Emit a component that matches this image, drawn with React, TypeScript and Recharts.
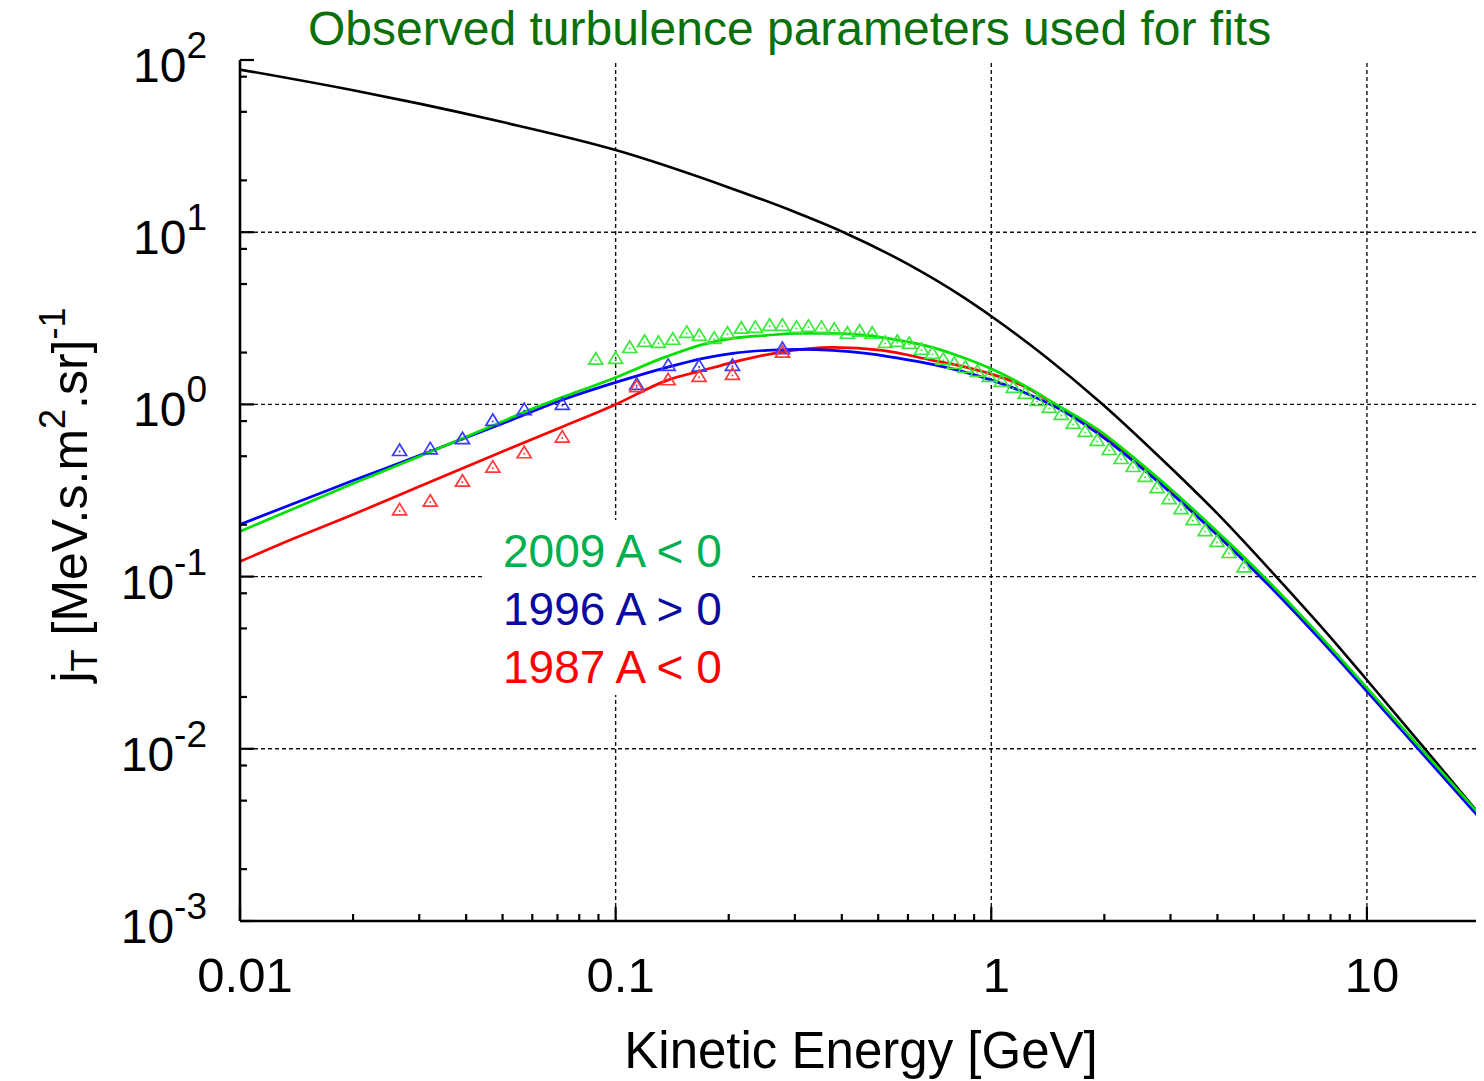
import React from 'react';
import { ComposedChart, Line, Scatter, XAxis, YAxis, ReferenceLine } from 'recharts';

const FONT = '"Liberation Sans", Arial, Helvetica, sans-serif';

// ---------- data ----------
const E_LIS = [0.01, 0.02, 0.03, 0.05, 0.1, 0.2, 0.3, 0.4, 0.6, 0.84, 1, 1.4, 1.96, 3, 4, 5.73, 8, 10, 14, 20];
const J_LIS = [88, 66.7, 55.8, 43.6, 30, 18.2, 13.1, 10.1, 6.52, 4.21, 3.25, 1.88, 1.02, 0.43, 0.232, 0.1, 0.0444, 0.0251, 0.0105, 0.00414];

const E_FIT_2009 = [0.01, 0.02, 0.03, 0.05, 0.0613, 0.1, 0.137, 0.171, 0.205, 0.252, 0.309, 0.378, 0.465, 0.569, 0.697, 0.837, 1.006, 1.224, 1.489, 1.937, 2.328, 2.884, 3.574, 4.43, 5.488, 7.45, 10.12, 14.0, 20];
const J_FIT_2009 = [0.183, 0.347, 0.498, 0.797, 0.961, 1.435, 1.901, 2.233, 2.419, 2.519, 2.587, 2.587, 2.519, 2.356, 2.145, 1.876, 1.598, 1.289, 1.0, 0.706, 0.516, 0.348, 0.229, 0.1474, 0.093, 0.046, 0.0219, 0.0099, 0.00413];

const E_FIT_1996 = [0.01, 0.02, 0.03, 0.05, 0.0714, 0.1, 0.137, 0.171, 0.205, 0.252, 0.309, 0.378, 0.465, 0.569, 0.697, 0.837, 1.006, 1.224, 1.489, 1.937, 2.328, 2.884, 3.574, 4.43, 5.488, 7.45, 10.12, 14.0, 20];
const J_FIT_1996 = [0.201, 0.361, 0.505, 0.775, 1.055, 1.342, 1.641, 1.851, 1.979, 2.06, 2.088, 2.06, 1.979, 1.851, 1.708, 1.555, 1.379, 1.174, 0.961, 0.669, 0.49, 0.331, 0.218, 0.1405, 0.0887, 0.0439, 0.0209, 0.00945, 0.00394];

const E_FIT_1987 = [0.01, 0.0139, 0.02, 0.03, 0.05, 0.0714, 0.1, 0.137, 0.171, 0.205, 0.273, 0.378, 0.513, 0.697, 0.837, 1.006, 1.224, 1.489, 1.937, 2.328, 2.884, 3.574, 4.43, 5.488, 7.45, 10.12, 14.0, 20];
const J_FIT_1987 = [0.1223, 0.1663, 0.2293, 0.3337, 0.533, 0.735, 1.0, 1.379, 1.577, 1.755, 2.006, 2.145, 2.06, 1.803, 1.663, 1.494, 1.273, 0.987, 0.697, 0.504, 0.34, 0.224, 0.144, 0.091, 0.045, 0.0214, 0.0097, 0.00405];

const E_OBS_2009 = [0.0885, 0.1, 0.109, 0.1194, 0.13, 0.142, 0.1546, 0.167, 0.183, 0.1985, 0.216, 0.2355, 0.257, 0.278, 0.303, 0.326, 0.353, 0.382, 0.414, 0.446, 0.482, 0.522, 0.562, 0.605, 0.652, 0.697, 0.745, 0.797, 0.853, 0.918, 0.988, 1.063, 1.144, 1.231, 1.325, 1.427, 1.535, 1.652, 1.778, 1.914, 2.06, 2.217, 2.386, 2.568, 2.764, 2.974, 3.201, 3.445, 3.708, 3.99, 4.295, 4.709];
const J_OBS_2009 = [1.83, 1.85, 2.14, 2.32, 2.29, 2.39, 2.62, 2.52, 2.42, 2.59, 2.77, 2.8, 2.88, 2.88, 2.8, 2.84, 2.8, 2.73, 2.59, 2.66, 2.59, 2.29, 2.32, 2.26, 2.09, 1.98, 1.827, 1.731, 1.641, 1.555, 1.455, 1.36, 1.255, 1.158, 1.055, 0.961, 0.875, 0.775, 0.697, 0.618, 0.547, 0.485, 0.436, 0.382, 0.329, 0.284, 0.248, 0.2145, 0.185, 0.16, 0.138, 0.114];

const E_OBS_LOW = [0.0266, 0.0321, 0.0391, 0.0471, 0.0571, 0.0721, 0.1138, 0.138, 0.1668, 0.2046, 0.278];
const J_OBS_1996 = [0.54, 0.552, 0.632, 0.807, 0.932, 1.0, 1.307, 1.686, 1.67, 1.686, 2.11];
const J_OBS_1987 = [0.244, 0.274, 0.358, 0.432, 0.524, 0.646, 1.27, 1.39, 1.455, 1.494, 2.01];

const X_MAJOR = [0.01, 0.1, 1, 10];
const X_MAJOR_LABELS = ['0.01', '0.1', '1', '10'];
const X_MINOR = [0.02, 0.03, 0.04, 0.05, 0.06, 0.07, 0.08, 0.09, 0.2, 0.3, 0.4, 0.5, 0.6, 0.7, 0.8, 0.9, 2, 3, 4, 5, 6, 7, 8, 9];
const Y_MAJOR = [0.001, 0.01, 0.1, 1, 10, 100];
const Y_MAJOR_EXP = ['-3', '-2', '-1', '0', '1', '2'];
const Y_MINOR = [0.002, 0.005, 0.008, 0.02, 0.05, 0.08, 0.2, 0.5, 0.8, 2, 5, 8, 20, 50, 80];
const X_GRID = [0.1, 1, 10];
const Y_GRID = [0.01, 0.1, 1, 10];

const LEGEND_TEXTS = ['2009 A < 0', '1996 A > 0', '1987 A < 0'];
const LEGEND_COLORS = ['#00B050', '#0A0AA0', '#FF0000'];

// ---------- helpers ----------
const pts = (xs: number[], ys: number[]) => xs.map((x, i) => ({ x, y: ys[i] }));
const lis = pts(E_LIS, J_LIS);
const fit09 = pts(E_FIT_2009, J_FIT_2009);
const fit96 = pts(E_FIT_1996, J_FIT_1996);
const fit87 = pts(E_FIT_1987, J_FIT_1987);
const obs09 = pts(E_OBS_2009, J_OBS_2009);
const obs96 = pts(E_OBS_LOW, J_OBS_1996);
const obs87 = pts(E_OBS_LOW, J_OBS_1987);

const X_TICKS = [...X_MAJOR, ...X_MINOR].sort((a, b) => a - b);
const Y_TICKS = [...Y_MAJOR, ...Y_MINOR].sort((a, b) => a - b);

const isMajorX = (v: number) => X_MAJOR.some((m) => Math.abs(m - v) / m < 1e-6);
const isMajorY = (v: number) => Y_MAJOR.some((m) => Math.abs(m - v) / m < 1e-6);

const W = 1476;
const H = 1073;
const MAJ = 14;
const MIN = 7;
const TICK_W = 2.2;

function BottomTick(props: any) {
  const { x, y, payload } = props;
  const major = isMajorX(payload.value);
  const idx = X_MAJOR.findIndex((m) => Math.abs(m - payload.value) / m < 1e-6);
  return (
    <g>
      <line x1={x} x2={x} y1={y} y2={y - (major ? MAJ : MIN)} stroke="#000" strokeWidth={TICK_W} />
      {major && (
        <text x={x + 5} y={y + 71} textAnchor="middle" fontSize={49} fontFamily={FONT} fill="#000">
          {X_MAJOR_LABELS[idx]}
        </text>
      )}
    </g>
  );
}

function TopTick(props: any) {
  const { x, y, payload } = props;
  const major = isMajorX(payload.value);
  return <line x1={x} x2={x} y1={y} y2={y + (major ? MAJ : MIN)} stroke="#000" strokeWidth={TICK_W} />;
}

function LeftTick(props: any) {
  const { x, y, payload } = props;
  const major = isMajorY(payload.value);
  const idx = Y_MAJOR.findIndex((m) => Math.abs(m - payload.value) / m < 1e-6);
  return (
    <g>
      <line x1={x} x2={x + (major ? MAJ : MIN)} y1={y} y2={y} stroke="#000" strokeWidth={TICK_W} />
      {major && (
        <text x={x - 33} y={y + 22} textAnchor="end" fontSize={48} fontFamily={FONT} fill="#000">
          10
          <tspan dy={-24} fontSize={37}>
            {Y_MAJOR_EXP[idx]}
          </tspan>
        </text>
      )}
    </g>
  );
}

function RightTick(props: any) {
  const { x, y, payload } = props;
  const major = isMajorY(payload.value);
  return <line x1={x} x2={x - (major ? MAJ : MIN)} y1={y} y2={y} stroke="#000" strokeWidth={TICK_W} />;
}

function makeTri(color: string) {
  return (props: any) => {
    const { cx, cy } = props;
    if (cx == null || cy == null) return <g />;
    return (
      <g>
        <polygon
          points={`${cx},${cy - 6.5} ${cx - 7},${cy + 5} ${cx + 7},${cy + 5}`}
          fill="none"
          stroke={color}
          strokeWidth={1.7}
        />
        <circle cx={cx} cy={cy + 1} r={1} fill={color} />
      </g>
    );
  };
}

const axisLine = { stroke: '#000', strokeWidth: 2.6 };

export default function App() {
  return (
    <div style={{ position: 'relative', width: W, height: H, background: '#fff' }}>
      <ComposedChart width={W} height={H} margin={{ top: 52, right: 4, bottom: 0, left: 0 }}>
        <XAxis
          xAxisId="b"
          dataKey="x"
          type="number"
          scale="log"
          domain={[0.01, 20]}
          allowDataOverflow
          ticks={X_TICKS}
          interval={0}
          tickSize={0}
          tickMargin={0}
          tickLine={false}
          tick={<BottomTick />}
          axisLine={axisLine}
          height={160}
          orientation="bottom"
        />
        <XAxis
          xAxisId="t"
          dataKey="x"
          type="number"
          scale="log"
          domain={[0.01, 20]}
          allowDataOverflow
          ticks={X_TICKS}
          interval={0}
          tickSize={0}
          tickMargin={0}
          tickLine={false}
          tick={<TopTick />}
          axisLine={axisLine}
          height={0}
          orientation="top"
        />
        <YAxis
          yAxisId="l"
          dataKey="y"
          type="number"
          scale="log"
          domain={[0.001, 100]}
          allowDataOverflow
          ticks={Y_TICKS}
          interval={0}
          tickSize={0}
          tickMargin={0}
          tickLine={false}
          tick={<LeftTick />}
          axisLine={axisLine}
          width={232}
          orientation="left"
        />
        <YAxis
          yAxisId="r"
          dataKey="y"
          type="number"
          scale="log"
          domain={[0.001, 100]}
          allowDataOverflow
          ticks={Y_TICKS}
          interval={0}
          tickSize={0}
          tickMargin={0}
          tickLine={false}
          tick={<RightTick />}
          axisLine={axisLine}
          width={0}
          orientation="right"
        />

        {X_GRID.map((v) => (
          <ReferenceLine key={'gx' + v} x={v} xAxisId="b" yAxisId="l" stroke="#111" strokeWidth={1.4} strokeDasharray="4 3" />
        ))}
        {Y_GRID.map((v) => (
          <ReferenceLine key={'gy' + v} y={v} xAxisId="b" yAxisId="l" stroke="#111" strokeWidth={1.4} strokeDasharray="4 3" />
        ))}

        <Scatter data={obs96} dataKey="y" xAxisId="b" yAxisId="l" isAnimationActive={false} shape={makeTri('#3a3aff')} />
        <Scatter data={obs87} dataKey="y" xAxisId="b" yAxisId="l" isAnimationActive={false} shape={makeTri('#ff3a3a')} />
        <Scatter data={obs09} dataKey="y" xAxisId="b" yAxisId="l" isAnimationActive={false} shape={makeTri('#3ce83c')} />

        <Line data={lis} dataKey="y" xAxisId="b" yAxisId="l" type="monotone" stroke="#000" strokeWidth={2.6} dot={false} isAnimationActive={false} />
        <Line data={fit87} dataKey="y" xAxisId="b" yAxisId="l" type="monotone" stroke="#ff0000" strokeWidth={2.7} dot={false} isAnimationActive={false} />
        <Line data={fit96} dataKey="y" xAxisId="b" yAxisId="l" type="monotone" stroke="#0000ff" strokeWidth={2.7} dot={false} isAnimationActive={false} />
        <Line data={fit09} dataKey="y" xAxisId="b" yAxisId="l" type="monotone" stroke="#00e000" strokeWidth={2.7} dot={false} isAnimationActive={false} />
      </ComposedChart>

      <svg width={W + 8} height={H + 8} style={{ position: 'absolute', left: -8, top: -8, pointerEvents: 'none' }}>
        <text x={308} y={45} fontSize={48} fontFamily={FONT} fill="#0A700A">
          Observed turbulence parameters used for fits
        </text>
        <text x={861} y={1068} textAnchor="middle" fontSize={51} fontFamily={FONT} fill="#000">
          Kinetic Energy [GeV]
        </text>
        <text transform="rotate(-90)" x={-495} y={87} textAnchor="middle" fontSize={50} fontFamily={FONT} fill="#000">
          j
          <tspan dy={10} fontSize={36}>T</tspan>
          <tspan dy={-10}> [MeV.s.m</tspan>
          <tspan dy={-22} fontSize={36}>2</tspan>
          <tspan dy={22}>.sr]</tspan>
          <tspan dy={-22} fontSize={36}>-1</tspan>
        </text>
        <rect x={482} y={520} width={270} height={175} fill="#fff" />
        {LEGEND_TEXTS.map((t, i) => (
          <text key={t} x={503} y={567 + i * 58} fontSize={46} fontFamily={FONT} fill={LEGEND_COLORS[i]}>
            {t}
          </text>
        ))}
      </svg>
    </div>
  );
}
